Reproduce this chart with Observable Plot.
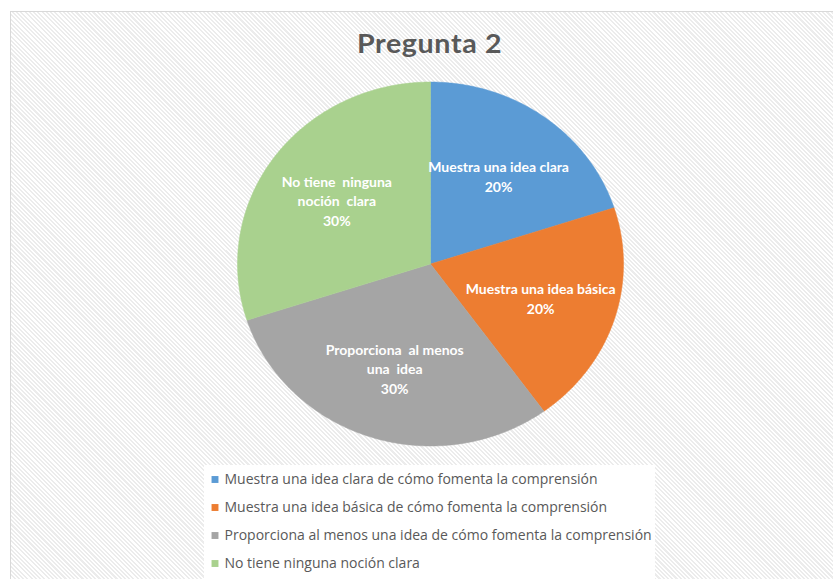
<!DOCTYPE html>
<html><head><meta charset="utf-8">
<script src="https://cdn.jsdelivr.net/npm/d3@7"></script>
<script src="https://cdn.jsdelivr.net/npm/@observablehq/plot@0.6"></script>
<style>
body{margin:0;background:#fff;}
#wrap{position:relative;width:833px;height:579px;overflow:hidden;}
#bg{position:absolute;left:10px;top:11px;width:840px;height:600px;border:1px solid #d9d9d9;
 background:repeating-linear-gradient(45deg,#ffffff 0 1.5px,#ececec 1.5px 3px);}
#title{position:absolute;left:0;width:860px;top:29px;text-align:center;font-family:Lato,sans-serif;font-weight:bold;font-size:27px;line-height:27px;color:#595959;letter-spacing:0.6px;}
#title span{display:inline-block;transform:scaleX(1.06);}
#pie{position:absolute;left:0;top:0;}
#legend{position:absolute;left:204px;top:465px;background:#fff;}
</style></head>
<body><div id="wrap"><div id="bg"></div><div id="title"><span></span></div><div id="pie"></div><div id="legend"></div></div>
<script>
const title = "Pregunta 2";
const categories = [
  "Muestra una idea clara de cómo fomenta la comprensión",
  "Muestra una idea básica de cómo fomenta la comprensión",
  "Proporciona al menos una idea de cómo fomenta la comprensión",
  "No tiene ninguna noción clara"
];
const sliceLabels = [
  "Muestra una idea clara",
  "Muestra una idea básica",
  "Proporciona  al menos\nuna  idea",
  "No tiene  ninguna\nnoción  clara"
];
const values = [20, 20, 30, 30];
const colors = ["#5b9bd5", "#ed7d31", "#a5a5a5", "#a9d18e"];

document.querySelector("#title span").textContent = title;

const total = d3.sum(values);
let acc = 0;
const slices = values.map((v, i) => {
  const a0 = acc / total * 2 * Math.PI; acc += v;
  const a1 = acc / total * 2 * Math.PI;
  return {i, cat: categories[i], a0, a1, v};
});
const pts = [];
for (const s of slices) {
  pts.push({cat: s.cat, x: 0, y: 0});
  const n = Math.max(2, Math.ceil((s.a1 - s.a0) / 0.01));
  for (let k = 0; k <= n; k++) {
    const a = s.a0 + (s.a1 - s.a0) * k / n;
    pts.push({cat: s.cat, x: Math.sin(a), y: Math.cos(a)});
  }
  pts.push({cat: s.cat, x: 0, y: 0});
}
const ring = d3.range(0, 629).map(k => ({x: Math.sin(k / 100), y: Math.cos(k / 100)}));
const labels = slices.map(s => {
  const m = (s.a0 + s.a1) / 2, r = 0.6;
  return {x: r * Math.sin(m), y: r * Math.cos(m), text: sliceLabels[s.i] + "\n" + Math.round(s.v / total * 100) + "%"};
});

const pie = Plot.plot({
  width: 833, height: 579,
  x: {domain: [-1, 1], range: [237, 623], axis: null},
  y: {domain: [-1, 1], range: [445.5, 81.5], axis: null},
  color: {domain: categories, range: colors},
  style: {background: "transparent", overflow: "visible"},
  marks: [
    Plot.line(ring, {x: "x", y: "y", fill: "#ffffff", stroke: "none", ariaLabel: "shadow"}),
    Plot.line(pts, {x: "x", y: "y", z: "cat", fill: "cat", stroke: "cat", strokeWidth: 0.5}),
    Plot.text(labels, {x: "x", y: "y", text: "text", fill: "white", fontWeight: "bold", fontSize: 14,
      fontFamily: "Lato, sans-serif", lineHeight: 1.4, lineAnchor: "middle"})
  ]
});
const svgns = "http://www.w3.org/2000/svg";
const defs = document.createElementNS(svgns, "defs");
defs.innerHTML = '<filter id="sh" x="-20%" y="-20%" width="140%" height="140%"><feDropShadow dx="0" dy="0" stdDeviation="5" flood-color="#000" flood-opacity="0.5"/></filter>';
pie.insertBefore(defs, pie.firstChild);
const sg = pie.querySelector('g[aria-label="shadow"]');
if (sg) sg.setAttribute("filter", "url(#sh)");
document.getElementById("pie").appendChild(pie);

const legend = Plot.plot({
  width: 451, height: 114,
  y: {domain: categories, type: "point", range: [13, 99], padding: 0, axis: null},
  color: {domain: categories, range: colors},
  style: {background: "#fff"},
  marks: [
    Plot.dot(categories, {y: d => d, frameAnchor: "left", dx: 10.5, symbol: "square", r: 3.9, fill: d => d, stroke: "none"}),
    Plot.text(categories, {y: d => d, frameAnchor: "left", dx: 20, textAnchor: "start", text: d => d,
      fill: "#595959", fontSize: 14, fontFamily: "'Open Sans', sans-serif"})
  ]
});
document.getElementById("legend").appendChild(legend);
</script></body></html>
